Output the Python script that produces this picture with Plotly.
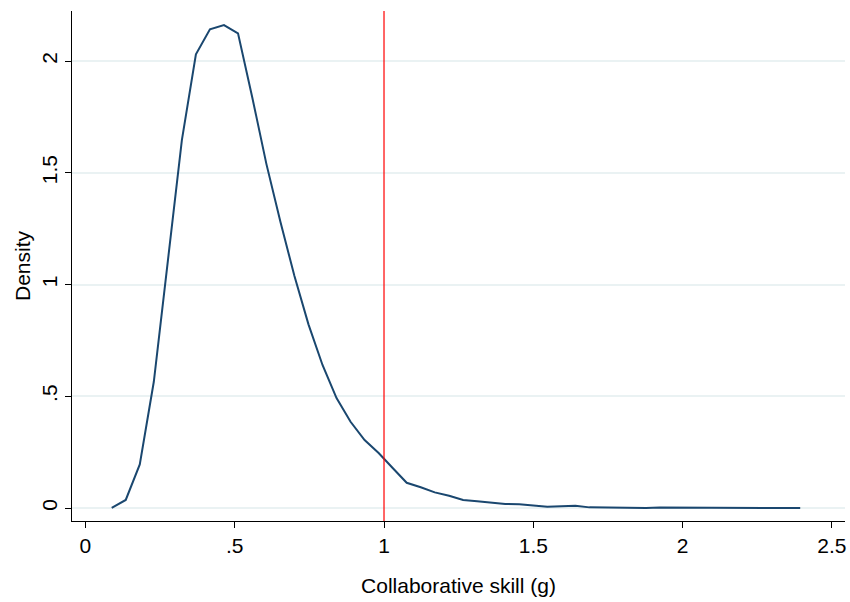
import plotly.graph_objects as go

# Kernel density evaluation points (x) and density values (y)
skill = [0.088, 0.135, 0.182, 0.229, 0.276, 0.323, 0.370, 0.417, 0.464, 0.511,
         0.559, 0.606, 0.653, 0.700, 0.747, 0.794, 0.841, 0.888, 0.935, 0.982,
         1.029, 1.076, 1.123, 1.170, 1.218, 1.265, 1.312, 1.359, 1.406, 1.453,
         1.500, 1.547, 1.594, 1.641, 1.688, 1.735, 1.782, 1.829, 1.877, 1.924,
         1.971, 2.018, 2.065, 2.112, 2.159, 2.206, 2.253, 2.300, 2.347, 2.394]
density = [0.001, 0.036, 0.195, 0.565, 1.105, 1.646, 2.030, 2.142, 2.161, 2.124,
           1.836, 1.540, 1.281, 1.038, 0.822, 0.640, 0.492, 0.386, 0.304, 0.246,
           0.179, 0.113, 0.093, 0.070, 0.055, 0.036, 0.030, 0.024, 0.018, 0.017,
           0.012, 0.006, 0.008, 0.010, 0.003, 0.002, 0.000, 0.000, 0.000, 0.002,
           0.002, 0.002, 0.002, 0.000, 0.000, 0.000, 0.000, 0.000, 0.000, 0.000]

x_ticks = [0, 0.5, 1, 1.5, 2, 2.5]
x_tick_labels = ["0", ".5", "1", "1.5", "2", "2.5"]
y_ticks = [0, 0.5, 1, 1.5, 2]
y_tick_labels = ["0", ".5", "1", "1.5", "2"]
ref_line = 1.0

FONT = "Liberation Sans, Arial, Helvetica, sans-serif"

fig = go.Figure()
fig.add_trace(go.Scatter(x=skill, y=density, mode="lines",
                         line=dict(color="#1A476F", width=2), showlegend=False,
                         hoverinfo="skip"))

fig.add_shape(type="line", xref="x", yref="paper", x0=ref_line, x1=ref_line,
              y0=0, y1=1, line=dict(color="#FF0000", width=1.2))

fig.update_layout(
    width=850, height=602,
    margin=dict(l=72, r=5, t=11, b=81),
    paper_bgcolor="white", plot_bgcolor="white",
    font=dict(family=FONT, size=21, color="black"),
    xaxis=dict(range=[-0.045, 2.544], tickvals=x_ticks, ticktext=x_tick_labels,
               showgrid=False, zeroline=False, showline=True, linecolor="black",
               linewidth=1, ticks="outside", ticklen=6, tickcolor="black",
               title=dict(text="Collaborative skill (g)", font=dict(size=21), standoff=22),
               tickfont=dict(size=21)),
    yaxis=dict(range=[-0.058, 2.224], tickvals=y_ticks, ticktext=y_tick_labels,
               showgrid=True, gridcolor="#EAF2F3", gridwidth=2, zeroline=False,
               showline=True, linecolor="black", linewidth=1, ticks="outside",
               ticklen=6, tickcolor="black", tickangle=-90,
               title=dict(text="Density", font=dict(size=21), standoff=1),
               tickfont=dict(size=21)),
)

fig.write_html("out.html")
